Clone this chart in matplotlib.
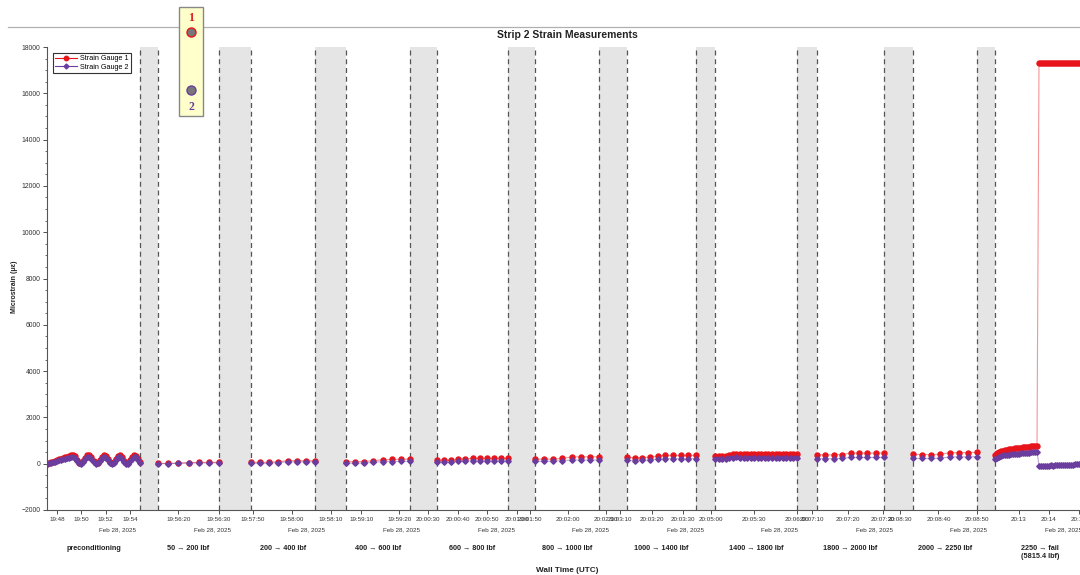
import numpy as np
import matplotlib
matplotlib.use("Agg")
import matplotlib.pyplot as plt
from matplotlib.lines import Line2D
from matplotlib.patches import Rectangle

plt.rcParams["font.family"] = ["Liberation Sans", "DejaVu Sans"]

# ---------------- data ----------------
segment_labels = [
    "preconditioning", "50 \u2192 200 lbf", "200 \u2192 400 lbf", "400 \u2192 600 lbf",
    "600 \u2192 800 lbf", "800 \u2192 1000 lbf", "1000 \u2192 1400 lbf",
    "1400 \u2192 1800 lbf", "1800 \u2192 2000 lbf", "2000 \u2192 2250 lbf",
    "2250 \u2192 fail\n(5815.4 lbf)",
]
# first sample time of each segment (UTC) and logging period in seconds
segment_starts = [
    "19:47:10", "19:56:15", "19:57:49.5", "19:59:06", "20:00:33", "20:01:51.3",
    "20:03:12.2", "20:05:02.8", "20:07:11.4", "20:08:33.4", "20:12:12",
]
sample_period = [10, 2.5, 2.35, 2.4, 2.4, 2.41, 2.43, 2.48, 2.36, 2.37, 4]

segment_ticks = [
    ["19:48", "19:50", "19:52", "19:54"],
    ["19:56:20", "19:56:30"],
    ["19:57:50", "19:58:00", "19:58:10"],
    ["19:59:10", "19:59:20"],
    ["20:00:30", "20:00:40", "20:00:50", "20:01:00"],
    ["20:01:50", "20:02:00", "20:02:10"],
    ["20:03:10", "20:03:20", "20:03:30"],
    ["20:05:00", "20:05:30", "20:06:00"],
    ["20:07:10", "20:07:20", "20:07:30"],
    ["20:08:30", "20:08:40", "20:08:50"],
    ["20:13", "20:14", "20:15"],
]
date_label = "Feb 28, 2025"

g1_pre = [0, 35, 60, 95, 120, 150, 185, 210, 240, 275, 300, 330, 365, 395,
          330, 180, 40, 20, 120, 260, 360, 390, 270, 110, 20, 40, 170, 300, 385,
          340, 200, 60, 15, 80, 220, 340, 380, 280, 130, 25, 30, 150, 290, 385,
          350, 200, 60]
g2_pre = [0, 20, 45, 70, 90, 115, 140, 160, 185, 210, 235, 255, 280, 300,
          250, 120, 10, -10, 80, 200, 280, 300, 200, 70, -10, 10, 120, 230, 300,
          260, 140, 20, -15, 50, 170, 270, 295, 210, 80, -10, 0, 100, 220, 300,
          270, 140, 20]
g1_200 = [10, 15, 25, 45, 55, 55, 60]
g2_200 = [0, 5, 15, 30, 35, 35, 40]
g1_400 = [60, 55, 60, 90, 130, 130, 130, 130]
g2_400 = [20, 15, 20, 50, 80, 80, 80, 80]
g1_600 = [90, 85, 95, 130, 170, 185, 190, 200]
g2_600 = [20, 20, 30, 60, 90, 95, 100, 100]
g1_800 = [160, 150, 150, 190, 220, 230, 230, 230, 230, 230, 235]
g2_800 = [70, 65, 60, 100, 120, 125, 125, 125, 125, 125, 125]
g1_1000 = [200, 195, 200, 230, 290, 295, 295, 300]
g2_1000 = [100, 100, 110, 130, 160, 160, 160, 160]
g1_1400 = [270, 265, 265, 280, 330, 360, 360, 355, 360, 360]
g2_1400 = [140, 130, 140, 160, 200, 215, 215, 210, 215, 215]
g1_1800 = [340, 345, 340, 350, 380, 410, 425, 420, 415, 415, 420, 420,
           415, 420, 420, 420, 420, 420, 420, 425, 420, 420, 425, 425]
g2_1800 = [190, 185, 185, 200, 230, 265, 275, 240, 245, 250, 250, 250,
           250, 250, 255, 255, 255, 255, 255, 255, 255, 255, 260, 260]
g1_2000 = [390, 380, 385, 395, 460, 465, 460, 460, 465]
g2_2000 = [220, 215, 220, 230, 270, 275, 270, 270, 275]
g1_2250 = [400, 395, 395, 410, 470, 480, 480, 485]
g2_2250 = [230, 225, 225, 240, 290, 295, 295, 300]
g1_fail = [390, 450, 500, 540, 570, 590, 610, 625, 640, 655, 665, 675, 685,
           695, 705, 715, 725, 735, 745, 755, 765, 780,
           17310, 17310, 17310, 17310, 17310, 17310, 17310, 17310, 17310, 17310,
           17310, 17310, 17310, 17310, 17310, 17310, 17310, 17310, 17310, 17310,
           17310, 17310]
g2_fail = [190, 260, 300, 330, 355, 370, 385, 395, 405, 415, 425, 435, 440,
           450, 455, 465, 470, 480, 490, 500, 510, 520,
           -80, -85, -85, -80, -85, -80, -75, -80, -70, -60, -55, -60, -55, -50,
           -50, -45, -40, -35, -30, -20, -15, -10]

gauge1 = [g1_pre, g1_200, g1_400, g1_600, g1_800, g1_1000, g1_1400,
          g1_1800, g1_2000, g1_2250, g1_fail]
gauge2 = [g2_pre, g2_200, g2_400, g2_600, g2_800, g2_1000, g2_1400,
          g2_1800, g2_2000, g2_2250, g2_fail]

# ---------------- layout (pixels on the 1080x575 canvas) ----------------
W, H = 1080, 575
segment_px = [(47, 140), (158, 219), (251, 315), (346, 410), (437, 508),
              (535, 599), (627, 696), (715, 797), (817, 884), (913, 977),
              (995, 1081)]
panel_left, panel_w = 46.5, 94.6

RED = "#e8141c"
PURPLE = "#6a3d9e"
DARK = "#333333"


def seconds(stamp):
    parts = stamp.split(":")
    sec = float(parts[2]) if len(parts) > 2 else 0.0
    return int(parts[0]) * 3600 + int(parts[1]) * 60 + sec


fig = plt.figure(figsize=(W / 100, H / 100), dpi=100, facecolor="white")
ax = fig.add_axes([47 / W, 65 / H, 1033 / W, 463 / H])
ax.set_xlim(47, W)
ax.set_ylim(-2000, 18000)

tick_pos, tick_lab = [], []
for i, (v1, v2) in enumerate(zip(gauge1, gauge2)):
    t0 = seconds(segment_starts[i])
    t = t0 + sample_period[i] * np.arange(len(v1))
    x0, x1 = segment_px[i]
    scale = (x1 - x0) / (t[-1] - t0)
    x = x0 + (t - t0) * scale
    ax.plot(x, v1, color=RED, lw=0.8, alpha=0.45, zorder=3)
    ax.plot(x, v1, ls="none", marker="o", ms=3.6, color=RED, mec=RED, zorder=4)
    ax.plot(x, v2, color=PURPLE, lw=0.8, alpha=0.45, zorder=5)
    ax.plot(x, v2, ls="none", marker="D", ms=2.8, color=PURPLE, mec=PURPLE, zorder=6)
    for tk in segment_ticks[i]:
        tick_pos.append(x0 + (seconds(tk) - t0) * scale)
        tick_lab.append(tk)

# gaps between load steps
for (a0, a1), (b0, b1) in zip(segment_px[:-1], segment_px[1:]):
    ax.axvspan(a1, b0, color="#e5e5e5", lw=0, zorder=0)
    for xe in (a1, b0):
        ax.axvline(xe, color="#555555", lw=0.9, ls=(0, (4, 3)), zorder=1)

ax.set_xticks(tick_pos)
ax.set_xticklabels(tick_lab)
ax.set_yticks(np.arange(-2000, 18001, 2000))
ax.set_yticks(np.arange(-2000, 18001, 500), minor=True)
ax.tick_params(axis="both", which="major", direction="out", length=3.2,
               width=0.6, color=DARK, labelcolor=DARK, pad=1.5)
ax.tick_params(axis="x", labelsize=4.5)
ax.tick_params(axis="y", labelsize=4.9)
ax.tick_params(axis="y", which="minor", direction="out", length=1.8,
               width=0.5, color=DARK)
for side in ("top", "right"):
    ax.spines[side].set_visible(False)
for side in ("left", "bottom"):
    ax.spines[side].set_color("#555555")
    ax.spines[side].set_linewidth(0.8)

handles = [
    Line2D([], [], color=RED, lw=0.8, marker="o", ms=3.2, label="Strain Gauge 1"),
    Line2D([], [], color=PURPLE, lw=0.8, marker="D", ms=2.5, label="Strain Gauge 2"),
]
leg = ax.legend(handles=handles, loc="upper left", bbox_to_anchor=(53 / W, 1 - 53 / H),
                bbox_transform=fig.transFigure, fontsize=5.2, fancybox=False,
                edgecolor=DARK, framealpha=1, borderpad=0.3, handlelength=3.0,
                handletextpad=0.4, labelspacing=0.2, borderaxespad=0)
leg.get_frame().set_linewidth(0.8)

# overlay in canvas pixels for the figure-level decorations
ov = fig.add_axes([0, 0, 1, 1], zorder=10)
ov.set_xlim(0, W)
ov.set_ylim(H, 0)
ov.axis("off")

ov.plot([8, W], [27, 27], color="#b0b0b0", lw=0.9)
ov.text(567, 35, "Strip 2 Strain Measurements", ha="center", va="center",
        fontsize=7.5, fontweight="bold", color="#222222")
ov.text(14, 287, "Microstrain (\u03bc\u03b5)", ha="center", va="center",
        rotation=90, fontsize=5.0, fontweight="bold", color="#222222")
ov.text(567, 570, "Wall Time (UTC)", ha="center", va="center",
        fontsize=5.9, fontweight="bold", color="#222222")

for i, lab in enumerate(segment_labels):
    cx = panel_left + (i + 0.5) * panel_w
    right = panel_left + (i + 1) * panel_w - 5
    ov.text(right, 530, date_label, ha="right", va="center", fontsize=4.5, color=DARK)
    for k, line in enumerate(lab.split("\n")):
        ov.text(cx, 548 + 9 * k, line, ha="center", va="center", fontsize=5.2,
                fontweight="bold", color="#222222")

# channel key box
ov.add_patch(Rectangle((179, 7), 24, 109, facecolor="#ffffcc", edgecolor="#888888",
                       lw=1.0, zorder=5))
ov.text(191, 18, "1", ha="center", va="center", fontsize=8.5, fontweight="bold",
        color=RED, family=["Liberation Serif", "DejaVu Serif"], zorder=6)
ov.text(191, 107, "2", ha="center", va="center", fontsize=8.5, fontweight="bold",
        color=PURPLE, family=["Liberation Serif", "DejaVu Serif"], zorder=6)
ov.plot([191], [32], marker="o", ms=6.5, color="#777777", mec=RED, mew=1.0, zorder=6)
ov.plot([191], [90], marker="o", ms=6.5, color="#777777", mec=PURPLE, mew=1.0, zorder=6)

fig.savefig("out.png", dpi=100, facecolor="white")
